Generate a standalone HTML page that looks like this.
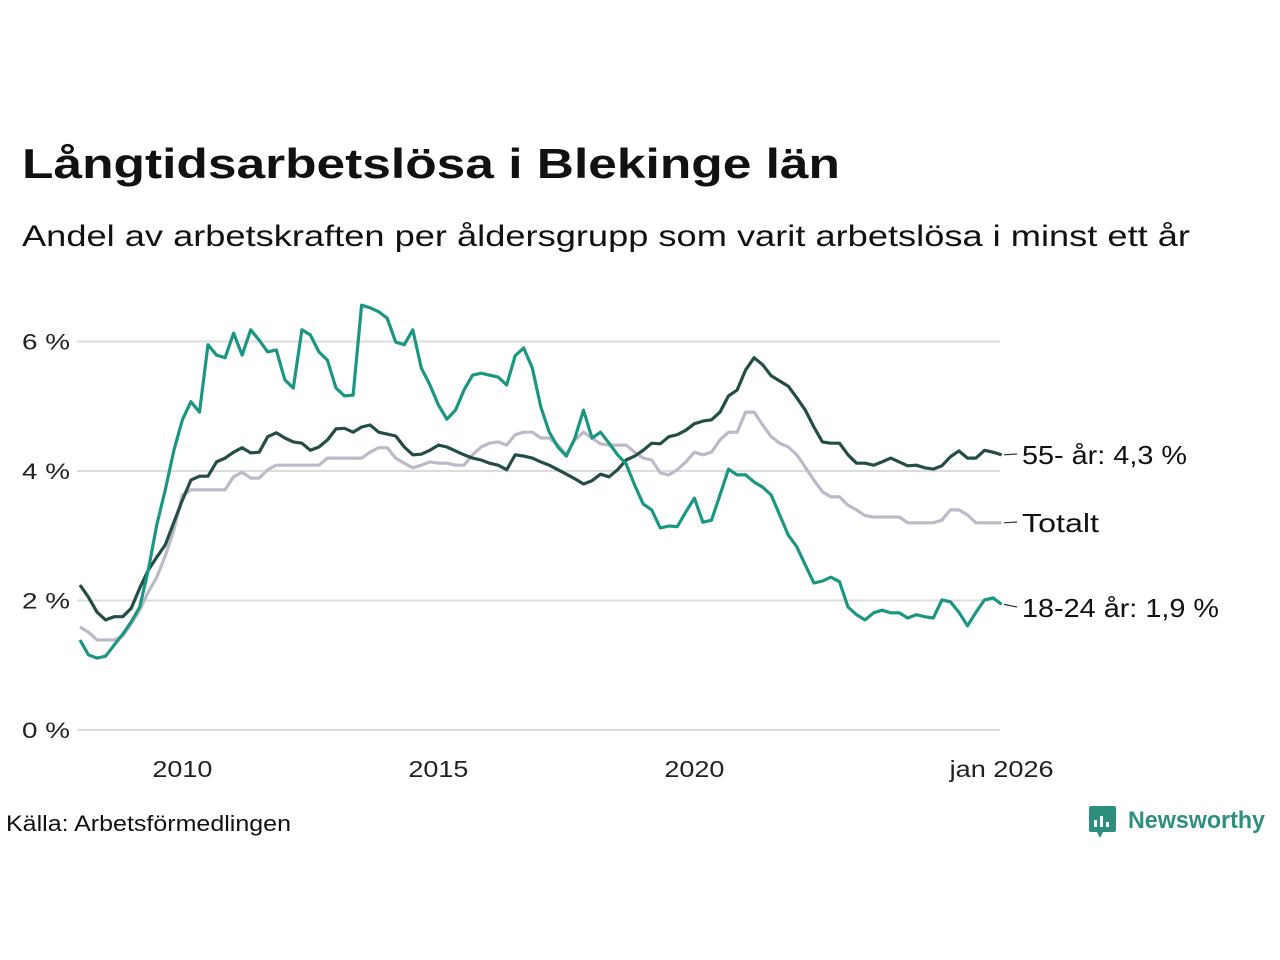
<!DOCTYPE html>
<html><head><meta charset="utf-8"><style>
html,body{margin:0;padding:0;background:#fff;}
svg{display:block;font-family:"Liberation Sans",sans-serif;}
</style></head><body>
<svg id="chart" width="1280" height="960" viewBox="0 0 1280 960">
<text x="22" y="178" font-size="42" font-weight="bold" fill="#111" textLength="818" lengthAdjust="spacingAndGlyphs">Långtidsarbetslösa i Blekinge län</text>
<text x="22" y="246" font-size="30" fill="#111" textLength="1168" lengthAdjust="spacingAndGlyphs">Andel av arbetskraften per åldersgrupp som varit arbetslösa i minst ett år</text>
<g id="grid"></g>
<g id="xaxis"></g>
<g id="lines"></g>
<g id="labels"></g>
<text x="6" y="831" font-size="22" fill="#111" textLength="285" lengthAdjust="spacingAndGlyphs">Källa: Arbetsförmedlingen</text>
<g>
<rect x="1089" y="806" width="27" height="26" rx="2" fill="#2f8f7f"/>
<polygon points="1097,832 1103,832 1100,838" fill="#2f8f7f"/>
<rect x="1094" y="820" width="3" height="7" fill="#fff"/><rect x="1100" y="816" width="3" height="11" fill="#fff"/><rect x="1106" y="822" width="3" height="5" fill="#fff"/>
<text x="1128" y="828" font-size="24" font-weight="bold" fill="#2f8f7f" textLength="137" lengthAdjust="spacingAndGlyphs">Newsworthy</text>
</g>
</svg>
<script>
const startYear = 2008;
const stepMonths = 2;
const yTicks = [0, 2, 4, 6];
const yTickLabels = ["0 %", "2 %", "4 %", "6 %"];
const xTickYears = [2010, 2015, 2020, 2026];
const xTickLabels = ["2010", "2015", "2020", "jan 2026"];
const youth = [1.39,1.16,1.11,1.14,1.31,1.48,1.67,1.90,2.47,3.17,3.71,4.32,4.79,5.07,4.91,5.95,5.79,5.75,6.13,5.79,6.18,6.02,5.84,5.87,5.41,5.28,6.18,6.10,5.84,5.71,5.28,5.16,5.17,6.56,6.52,6.46,6.36,5.99,5.95,6.18,5.59,5.33,5.02,4.80,4.94,5.25,5.48,5.51,5.48,5.45,5.33,5.78,5.90,5.59,4.99,4.60,4.37,4.23,4.51,4.94,4.51,4.60,4.43,4.25,4.11,3.78,3.49,3.40,3.12,3.15,3.14,3.37,3.58,3.21,3.24,3.63,4.03,3.94,3.94,3.83,3.75,3.63,3.32,3.01,2.83,2.55,2.27,2.30,2.36,2.29,1.90,1.78,1.70,1.81,1.85,1.81,1.81,1.73,1.78,1.75,1.73,2.01,1.98,1.82,1.61,1.82,2.01,2.04,1.94];
const senior = [2.24,2.05,1.82,1.70,1.75,1.75,1.88,2.19,2.47,2.67,2.86,3.21,3.55,3.86,3.92,3.92,4.14,4.20,4.29,4.36,4.28,4.29,4.53,4.59,4.51,4.45,4.43,4.32,4.37,4.48,4.65,4.66,4.60,4.68,4.71,4.60,4.57,4.54,4.37,4.25,4.26,4.32,4.40,4.37,4.31,4.25,4.20,4.17,4.12,4.09,4.02,4.25,4.23,4.20,4.14,4.09,4.02,3.95,3.88,3.80,3.85,3.95,3.91,4.02,4.17,4.23,4.32,4.43,4.42,4.53,4.56,4.63,4.73,4.77,4.79,4.91,5.16,5.25,5.56,5.75,5.64,5.47,5.39,5.31,5.13,4.94,4.68,4.45,4.43,4.43,4.25,4.12,4.12,4.09,4.14,4.20,4.14,4.08,4.09,4.05,4.03,4.08,4.22,4.31,4.20,4.20,4.32,4.29,4.25];
const total = [1.59,1.51,1.39,1.39,1.39,1.45,1.64,1.85,2.13,2.36,2.69,3.09,3.63,3.71,3.71,3.71,3.71,3.71,3.91,3.98,3.89,3.89,4.02,4.09,4.09,4.09,4.09,4.09,4.09,4.20,4.20,4.20,4.20,4.20,4.29,4.36,4.36,4.20,4.12,4.05,4.09,4.14,4.12,4.12,4.09,4.09,4.25,4.37,4.43,4.45,4.40,4.56,4.60,4.60,4.51,4.51,4.40,4.25,4.48,4.60,4.51,4.42,4.40,4.40,4.40,4.29,4.20,4.17,3.97,3.94,4.02,4.14,4.29,4.25,4.29,4.48,4.60,4.60,4.91,4.91,4.71,4.53,4.43,4.37,4.25,4.06,3.86,3.68,3.60,3.60,3.47,3.40,3.31,3.29,3.29,3.29,3.29,3.20,3.20,3.20,3.20,3.24,3.40,3.40,3.32,3.20,3.20,3.20,3.20];
const seriesNames = ["55- år: 4,3 %", "Totalt", "18-24 år: 1,9 %"];

const NS = "http://www.w3.org/2000/svg";
const X0 = 80, PX_PER_YEAR = 51.2, Y0 = 730, PX_PER_UNIT = 64.75;
function xScale(yearFrac){ return X0 + (yearFrac - startYear) * PX_PER_YEAR; }
function yScale(v){ return Y0 - v * PX_PER_UNIT; }
function idxYear(i){ return startYear + i * stepMonths / 12; }
function mk(tag, attrs, parent){ const e=document.createElementNS(NS,tag); for(const k in attrs) e.setAttribute(k,attrs[k]); parent.appendChild(e); return e; }

const grid = document.getElementById('grid');
yTicks.forEach((t,i)=>{
  const l = mk('line',{x1:77,x2:1000,y1:yScale(t),y2:yScale(t),stroke:'#dcdcdc','stroke-width':2},grid);
  
  
  const tx = mk('text',{x:70,y:yScale(t)+8,'text-anchor':'end','font-size':22,fill:'#222',textLength:48,lengthAdjust:'spacingAndGlyphs'},grid);
  tx.textContent = yTickLabels[i];
  
  
});
const xa = document.getElementById('xaxis');
xTickYears.forEach((yr,i)=>{
  const tx = mk('text',{x:xScale(yr),y:777,'text-anchor':'middle','font-size':23,fill:'#222'},xa);
  if (xTickLabels[i].length > 4) { tx.setAttribute('textLength', 104); tx.setAttribute('lengthAdjust','spacingAndGlyphs'); }
  else { tx.setAttribute('textLength', 60); tx.setAttribute('lengthAdjust','spacingAndGlyphs'); }
  tx.textContent = xTickLabels[i];
  
  
});
function drawLine(arr, color, name){
  const d = arr.map((v,i)=>(i?'L':'M')+xScale(idxYear(i)).toFixed(1)+','+yScale(v).toFixed(1)).join(' ');
  const p = mk('path',{d:d,fill:'none',stroke:color,'stroke-width':3.2,'stroke-linejoin':'round'},document.getElementById('lines'));
  
  
  return arr[arr.length-1];
}
const lastT = drawLine(total,'#bdbac8','line-totalt');
const lastS = drawLine(senior,'#234d45','line-55-ar');
const lastY = drawLine(youth,'#1b9683','line-18-24-ar');
const lab = document.getElementById('labels');
[[lastS,455,seriesNames[0],'label-55-ar',165],[lastT,523,seriesNames[1],'label-totalt',77],[lastY,608,seriesNames[2],'label-18-24-ar',197]].forEach(a=>{
  const yEnd = yScale(a[0]);
  const ln = mk('line',{x1:1004,y1:yEnd,x2:1017,y2:a[1]-1,stroke:'#333','stroke-width':1.2},lab);
  
  
  const t = mk('text',{x:1022,y:a[1]+9,'font-size':26,fill:'#111',textLength:a[4],lengthAdjust:'spacingAndGlyphs'},lab);
  t.textContent = a[2];
  
  
});
</script>
</body></html>
